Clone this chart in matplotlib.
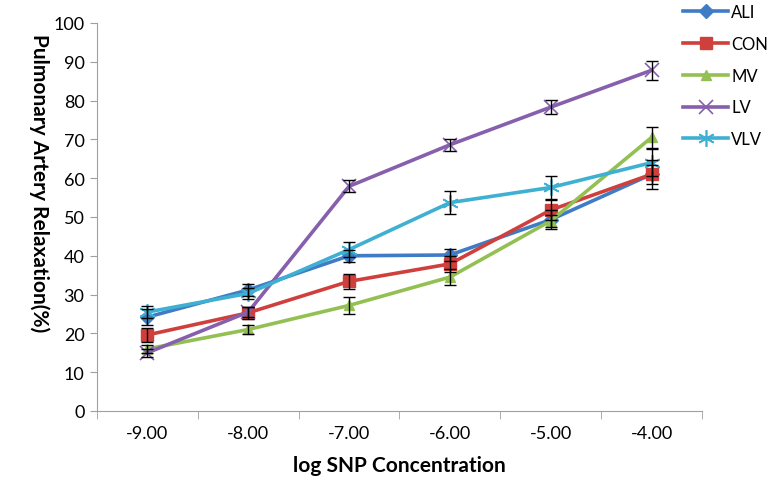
import matplotlib
matplotlib.use("Agg")
import matplotlib.pyplot as plt
import numpy as np

plt.rcParams['font.family'] = ['Lato', 'DejaVu Sans']

log_conc = [-9.0, -8.0, -7.0, -6.0, -5.0, -4.0]
x_labels = ['-9.00', '-8.00', '-7.00', '-6.00', '-5.00', '-4.00']

ali = [24.2, 31.2, 40.0, 40.2, 49.3, 61.0]
ali_err = [2.0, 1.5, 1.5, 1.5, 2.5, 3.8]
con = [19.6, 25.3, 33.4, 37.9, 51.8, 61.0]
con_err = [1.8, 1.5, 2.0, 2.0, 2.5, 2.5]
mv = [16.0, 21.0, 27.2, 34.5, 49.0, 70.5]
mv_err = [1.0, 1.2, 2.2, 2.0, 1.5, 2.8]
lv = [15.0, 25.5, 57.9, 68.6, 78.3, 87.8]
lv_err = [1.0, 1.2, 1.5, 1.5, 1.8, 2.5]
vlv = [25.5, 30.3, 41.6, 53.7, 57.6, 64.0]
vlv_err = [1.5, 1.5, 2.0, 3.0, 3.0, 3.5]

series = [
    ('ALI', ali, ali_err, '#3e7cc6', 'D', 7),
    ('CON', con, con_err, '#cf3f3c', 's', 8),
    ('MV', mv, mv_err, '#93c052', '^', 7),
    ('LV', lv, lv_err, '#8660ad', 'x', 10),
    ('VLV', vlv, vlv_err, '#3fb0d2', (6, 2, 0), 12),
]

fig = plt.figure(figsize=(7.71, 4.89), dpi=100)
ax = fig.add_axes([0.1258, 0.1575, 0.7847, 0.7935])

for name, vals, err, col, mk, ms in series:
    ax.errorbar(log_conc, vals, yerr=err, fmt='none', ecolor='black',
                elinewidth=1, capsize=4, capthick=1, zorder=3)
    ax.plot(log_conc, vals, color=col, lw=2.6, marker=mk, markersize=ms,
            markeredgewidth=1.0 if mk in ('D', 's', '^') else 1.2,
            markeredgecolor=col, markerfacecolor=col, label=name, zorder=2)

ax.set_xlim(-9.5, -3.5)
ax.set_ylim(0, 100)
ax.set_yticks(np.arange(0, 101, 10))
ax.set_xticks(log_conc)
ax.set_xticklabels(x_labels)
ax.set_xticks(np.arange(-9.5, -3.4, 1.0), minor=True)
ax.tick_params(axis='x', which='major', length=0, pad=10, labelsize=13)
ax.tick_params(axis='x', which='minor', length=6, color='#a0a0a0')
ax.tick_params(axis='y', length=5, color='#a0a0a0', labelsize=13, pad=4)

for s in ['top', 'right']:
    ax.spines[s].set_visible(False)
for s in ['left', 'bottom']:
    ax.spines[s].set_color('#a0a0a0')

ax.set_xlabel('log SNP Concentration', fontsize=15, fontweight='bold', labelpad=10)
ax.set_ylabel('Pulmonary Artery Relaxation(%)', fontsize=15, fontweight='bold',
              rotation=270)
ax.yaxis.set_label_coords(-0.113, 0.59)

fig.legend(loc='upper left', bbox_to_anchor=(0.886, 0.99), frameon=False,
           fontsize=12, handlelength=2.7, labelspacing=0.95, handletextpad=0.2,
           borderaxespad=0, borderpad=0)

fig.savefig('out.png', dpi=100)
